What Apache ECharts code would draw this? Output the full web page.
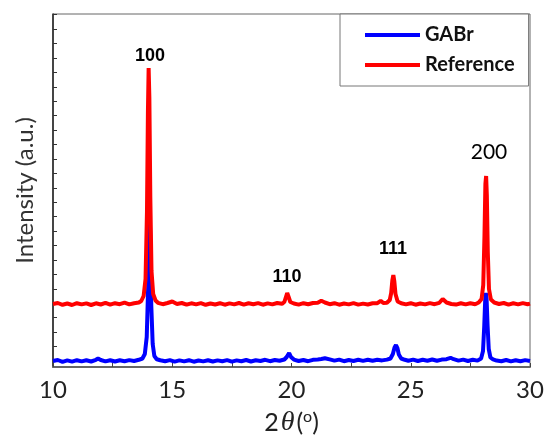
<!DOCTYPE html>
<html lang="en">
<head>
    <meta charset="UTF-8" />
    <title>XRD GABr</title>
    <script src="https://cdn.jsdelivr.net/npm/echarts@6.0.0/dist/echarts.min.js"></script>
    <style>
        body { margin: 0; background: #fff; }
        #chart { width: 552px; height: 442px; }
    </style>
</head>
<body>
    <div id="chart"></div>
    <script>
        // 2theta (deg) and intensity (a.u., offset as plotted)
        const blueTheta = [10.0, 10.2, 10.4, 10.6, 10.8, 11.0, 11.2, 11.4, 11.6, 11.8, 11.89, 12.0, 12.2, 12.4, 12.6, 12.8, 13.0, 13.2, 13.4, 13.6,
            13.75, 13.85, 13.93, 13.99, 14.03, 14.05, 14.08, 14.12, 14.18, 14.25, 14.35, 14.5, 14.7, 14.9, 15.1, 15.3, 15.5, 15.7, 15.9,
            16.1, 16.3, 16.5, 16.7, 16.9, 17.1, 17.3, 17.5, 17.7, 17.9, 18.1, 18.3, 18.5, 18.7, 18.9, 19.1, 19.3, 19.5, 19.7, 19.8, 19.9,
            19.98, 20.1, 20.3, 20.5, 20.7, 20.9, 21.1, 21.25, 21.4, 21.6, 21.8, 22.0, 22.2, 22.4, 22.6, 22.8, 23.0, 23.2, 23.4, 23.6, 23.8,
            24.0, 24.15, 24.25, 24.32, 24.38, 24.44, 24.5, 24.6, 24.75, 24.9, 25.1, 25.3, 25.5, 25.7, 25.9, 26.1, 26.3, 26.5, 26.67, 26.8,
            27.0, 27.2, 27.4, 27.6, 27.8, 27.95, 28.03, 28.08, 28.12, 28.15, 28.18, 28.22, 28.27, 28.34, 28.45, 28.6, 28.8, 29.0, 29.2,
            29.4, 29.6, 29.8, 30.0];
        const blueInt = [0.60, 0.70, 0.52, 0.66, 0.54, 0.68, 0.56, 0.67, 0.55, 0.72, 0.85, 0.70, 0.56, 0.68, 0.55, 0.67, 0.58, 0.69, 0.60, 0.72,
            0.85, 1.30, 3.00, 8.00, 13.5, 15.5, 13.0, 6.20, 2.30, 1.10, 0.78, 0.68, 0.58, 0.69, 0.54, 0.66, 0.56, 0.68, 0.53,
            0.65, 0.56, 0.68, 0.55, 0.66, 0.58, 0.69, 0.54, 0.66, 0.58, 0.70, 0.55, 0.67, 0.60, 0.72, 0.58, 0.70, 0.62, 0.75, 1.00, 1.40,
            1.00, 0.74, 0.60, 0.70, 0.58, 0.72, 0.76, 0.80, 0.88, 0.76, 0.64, 0.74, 0.58, 0.70, 0.60, 0.72, 0.61, 0.73, 0.62, 0.72, 0.66,
            0.74, 0.85, 1.30, 1.95, 2.20, 1.90, 1.25, 0.85, 0.72, 0.62, 0.74, 0.60, 0.72, 0.63, 0.75, 0.62, 0.74, 0.78, 0.92, 0.78,
            0.64, 0.74, 0.60, 0.72, 0.64, 0.85, 1.60, 4.00, 6.60, 7.40, 6.80, 4.20, 1.80, 0.95, 0.76, 0.64, 0.58, 0.70, 0.56,
            0.68, 0.58, 0.69, 0.60];

        const redTheta = [10.0, 10.2, 10.4, 10.6, 10.8, 11.0, 11.2, 11.4, 11.6, 11.8, 12.0, 12.2, 12.4, 12.6, 12.8, 13.0, 13.2, 13.4, 13.6,
            13.7, 13.8, 13.88, 13.94, 13.98, 14.01, 14.04, 14.08, 14.13, 14.2, 14.3, 14.4, 14.6, 14.8, 15.0, 15.2, 15.4, 15.6, 15.8,
            16.0, 16.2, 16.4, 16.6, 16.8, 17.0, 17.2, 17.4, 17.6, 17.8, 18.0, 18.2, 18.4, 18.6, 18.8, 19.0, 19.2, 19.4, 19.6, 19.7, 19.76,
            19.82, 19.88, 19.95, 20.1, 20.3, 20.5, 20.7, 20.9, 21.1, 21.25, 21.4, 21.6, 21.8, 22.0, 22.2, 22.4, 22.6, 22.8, 23.0, 23.2,
            23.4, 23.6, 23.74, 23.85, 24.0, 24.12, 24.18, 24.23, 24.27, 24.31, 24.36, 24.45, 24.6, 24.8, 25.0, 25.2, 25.4, 25.6, 25.8,
            26.0, 26.2, 26.34, 26.5, 26.7, 26.9, 27.1, 27.3, 27.5, 27.7, 27.85, 27.97, 28.04, 28.09, 28.13, 28.16, 28.19, 28.23, 28.28,
            28.36, 28.5, 28.7, 28.9, 29.1, 29.3, 29.5, 29.7, 29.9, 30.0];
        const redInt = [6.30, 6.40, 6.22, 6.35, 6.20, 6.38, 6.26, 6.36, 6.20, 6.37, 6.25, 6.42, 6.23, 6.38, 6.28, 6.44, 6.26, 6.38, 6.45,
            6.60, 7.10, 8.80, 15.5, 25.5, 29.9, 27.0, 17.0, 9.60, 7.30, 6.65, 6.42, 6.28, 6.40, 6.55, 6.30, 6.40, 6.23, 6.37,
            6.26, 6.39, 6.22, 6.35, 6.25, 6.38, 6.23, 6.36, 6.26, 6.40, 6.24, 6.37, 6.28, 6.39, 6.23, 6.36, 6.26, 6.40, 6.32, 6.50, 6.95,
            7.40, 7.00, 6.50, 6.35, 6.24, 6.38, 6.27, 6.40, 6.42, 6.62, 6.45, 6.28, 6.38, 6.23, 6.35, 6.26, 6.39, 6.24, 6.34, 6.25,
            6.37, 6.38, 6.62, 6.40, 6.42, 6.70, 7.40, 8.70, 9.20, 8.60, 7.30, 6.55, 6.37, 6.26, 6.38, 6.23, 6.35, 6.26, 6.39,
            6.28, 6.42, 6.80, 6.45, 6.30, 6.24, 6.37, 6.26, 6.38, 6.28, 6.45, 6.80, 8.20, 13.0, 18.3, 19.1, 17.2, 11.5, 7.80,
            6.75, 6.45, 6.30, 6.40, 6.24, 6.37, 6.26, 6.39, 6.28, 6.34];

        // peak annotations (Miller indices) at data coordinates
        const peakNames = ['100', '110', '111', '200'];
        const peakTheta = [14.07, 19.81, 24.26, 28.28];
        const peakY = [31.1, 9.0, 11.8, 21.5];
        const peakBold = [true, true, true, false];

        const xTicks = [10, 15, 20, 25, 30];

        const zip = (a, b) => a.map((v, i) => [v, b[i]]);

        const chart = echarts.init(document.getElementById('chart'));

        chart.setOption({
            animation: false,
            grid: [
                { left: 53, right: 22, top: 14, bottom: 75, show: true, borderColor: '#666', borderWidth: 1 },
                // only for the inward y ticks, which do not start at the axis bottom
                { left: 53, right: 22, top: 14.6, height: 346.4 }
            ],
            legend: {
                data: ['GABr', 'Reference'],
                orient: 'vertical',
                left: 340,
                top: 14,
                icon: 'rect',
                itemWidth: 55,
                itemHeight: 4,
                itemGap: 10,
                padding: [11, 14, 11, 25],
                backgroundColor: '#fff',
                borderColor: '#777',
                borderWidth: 1,
                textStyle: { fontFamily: 'Lato', fontWeight: 'bold', fontSize: 20, lineHeight: 20, color: '#111' }
            },
            xAxis: [
                {
                    type: 'value', gridIndex: 0, min: 10, max: 30, interval: 2.5,
                    axisLine: { lineStyle: { color: '#666', width: 2 } },
                    axisTick: { inside: true, length: 4, lineStyle: { color: '#444' } },
                    splitLine: { show: false },
                    axisLabel: {
                        margin: 11, fontFamily: 'Lato', fontSize: 24, color: '#222',
                        formatter: v => xTicks.includes(v) ? String(v) : ''
                    },
                    name: '{a|2}{t|θ}{a|(}{o|o}{a|)}',
                    nameLocation: 'middle',
                    nameGap: 42,
                    nameTextStyle: {
                        rich: {
                            a: { fontFamily: 'Lato', fontSize: 25, color: '#222' },
                            t: { fontFamily: 'Liberation Serif', fontStyle: 'italic', fontSize: 28, color: '#222', padding: [0, 2, 0, 2] },
                            o: { fontFamily: 'Lato', fontSize: 16, color: '#222', padding: [0, 0, 12, 0] }
                        }
                    }
                },
                { type: 'value', gridIndex: 1, min: 10, max: 30, show: false }
            ],
            yAxis: [
                {
                    type: 'value', gridIndex: 0, min: 0, max: 35.3,
                    axisLine: { show: true, lineStyle: { color: '#222', width: 1.5 } },
                    axisTick: { show: false },
                    axisLabel: { show: false },
                    splitLine: { show: false },
                    name: 'Intensity (a.u.)',
                    nameLocation: 'middle',
                    nameGap: 16,
                    nameTextStyle: { fontFamily: 'Lato', fontSize: 24, color: '#333' }
                },
                {
                    type: 'value', gridIndex: 1, min: 0, max: 24, interval: 1,
                    axisLine: { show: false },
                    axisTick: { show: true, inside: true, length: 4, lineStyle: { color: '#333' } },
                    axisLabel: { show: false },
                    splitLine: { show: false }
                }
            ],
            series: [
                {
                    name: 'GABr', type: 'line', xAxisIndex: 0, yAxisIndex: 0,
                    data: zip(blueTheta, blueInt),
                    showSymbol: false, symbol: 'none',
                    lineStyle: { color: '#0000ff', width: 4 },
                    itemStyle: { color: '#0000ff' }
                },
                {
                    name: 'Reference', type: 'line', xAxisIndex: 0, yAxisIndex: 0,
                    data: zip(redTheta, redInt),
                    showSymbol: false, symbol: 'none',
                    lineStyle: { color: '#ff0000', width: 4 },
                    itemStyle: { color: '#ff0000' }
                },
                {
                    name: 'peaks', type: 'scatter', xAxisIndex: 0, yAxisIndex: 0,
                    symbolSize: 0, silent: true,
                    itemStyle: { opacity: 1 },
                    data: peakNames.map((n, i) => ({
                        value: [peakTheta[i], peakY[i]],
                        label: {
                            show: true, position: 'inside', formatter: n,
                            fontFamily: peakBold[i] ? 'Liberation Sans' : 'Lato',
                            fontWeight: peakBold[i] ? 'bold' : 'normal',
                            fontSize: peakBold[i] ? 18 : 21,
                            color: '#000', opacity: 1
                        }
                    }))
                }
            ]
        });
    </script>
</body>
</html>
